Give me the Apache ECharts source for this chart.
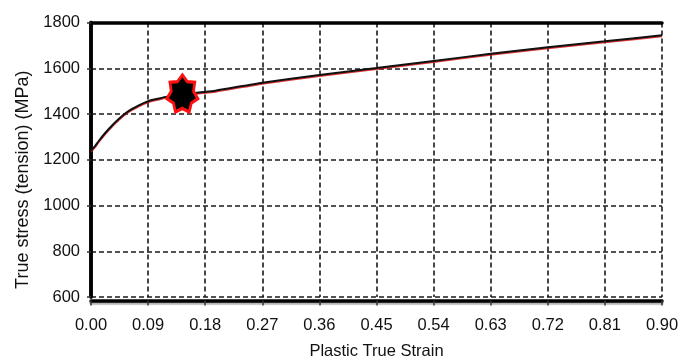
<!DOCTYPE html>
<html><head><meta charset="utf-8">
<script src="https://cdn.jsdelivr.net/npm/echarts@6/dist/echarts.min.js"></script>
<style>html,body{margin:0;padding:0;background:#fff}#c{width:680px;height:362px}</style>
</head><body><div id="c"></div>
<script>
// Data
const strain = [0, 0.006, 0.0122, 0.0227, 0.0332, 0.0437, 0.0543, 0.0647, 0.0753, 0.0911, 0.107, 0.12, 0.141, 0.17, 0.196, 0.27, 0.36, 0.45, 0.54, 0.63, 0.72, 0.81, 0.90];
const stress = [1240, 1258, 1282, 1318, 1350, 1378, 1403, 1422, 1438, 1457, 1468, 1476, 1484, 1494, 1502, 1537, 1571, 1601, 1632, 1663, 1692, 1718, 1744];
const markStrain = [0.144];
const markStress = [1490];
const xAxisTitle = 'Plastic True Strain';
const yAxisTitle = 'True stress (tension) (MPa)';

const FONT = 'Liberation Sans, Arial, sans-serif';

// 7-point star symbol path
function starPath(n, rIn) {
  let d = '';
  for (let i = 0; i < 2 * n; i++) {
    const a = -Math.PI / 2 + i * Math.PI / n;
    const r = i % 2 === 0 ? 100 : 100 * rIn;
    const x = (r * Math.cos(a)).toFixed(2), y = (r * Math.sin(a)).toFixed(2);
    d += (i === 0 ? 'M' : 'L') + x + ' ' + y + ' ';
  }
  return 'path://' + d + 'Z';
}

const lineData = strain.map((s, i) => [s, stress[i]]);
const markData = markStrain.map((s, i) => [s, markStress[i]]);

const dash = { color: '#1a1a1a', width: 1.6, type: [5, 3] };

const chart = echarts.init(document.getElementById('c'), null, { renderer: 'canvas' });
chart.setOption({
  animation: false,
  backgroundColor: '#fff',
  grid: { left: 91, right: 18, top: 22.5, bottom: 65, containLabel: false, outerBoundsMode: 'none' },
  xAxis: [{
    type: 'value', min: 0, max: 0.9, interval: 0.09,
    offset: 3.5,
    name: xAxisTitle, nameLocation: 'middle', nameGap: 42,
    nameTextStyle: { fontFamily: FONT, fontSize: 16.5, color: '#111' },
    axisLine: { onZero: false, lineStyle: { color: '#000', width: 3.5, shadowColor: 'rgba(0,0,0,0.3)', shadowOffsetY: 2, shadowBlur: 1 } },
    axisTick: { show: true, length: 5, lineStyle: { color: '#333', width: 1.5 } },
    axisLabel: { fontFamily: FONT, fontSize: 16.5, color: '#111', margin: 16, formatter: v => v.toFixed(2) },
    splitLine: { show: true, lineStyle: dash }
  }, {
    type: 'value', position: 'top', min: 0, max: 0.9,
    axisLine: { lineStyle: { color: '#000', width: 3.5 } },
    axisTick: { show: false }, axisLabel: { show: false }, splitLine: { show: false }
  }],
  yAxis: [{
    type: 'value', min: 600, max: 1800, interval: 200,
    name: yAxisTitle, nameLocation: 'middle', nameGap: 51, nameRotate: 90,
    nameTextStyle: { fontFamily: FONT, fontSize: 18, color: '#111', padding: [0, 40, 0, 0] },
    axisLine: { show: true, onZero: false, lineStyle: { color: '#000', width: 3.5 } },
    axisTick: { show: true, length: 4, lineStyle: { color: '#333', width: 1.5 } },
    axisLabel: { fontFamily: FONT, fontSize: 16.5, color: '#111', margin: 11, formatter: v => String(v) },
    splitLine: { show: true, lineStyle: dash }
  }, {
    type: 'value', position: 'right', min: 600, max: 1800,
    axisLine: { show: true, lineStyle: { color: '#000', width: 3.5 } },
    axisTick: { show: false }, axisLabel: { show: false }, splitLine: { show: false }
  }],
  series: [{
    type: 'line', data: lineData, smooth: 0.2, showSymbol: false, symbol: 'none',
    lineStyle: { color: '#111', width: 2, shadowColor: 'rgba(220,20,20,0.85)', shadowOffsetY: 1, shadowBlur: 0 },
    z: 3
  }, {
    type: 'scatter', data: markData, symbol: starPath(7, 0.72), symbolSize: [31, 37],
    itemStyle: { color: '#000', opacity: 1, borderColor: '#ff1010', borderWidth: 3 },
    z: 5
  }]
});
</script>
</body></html>
